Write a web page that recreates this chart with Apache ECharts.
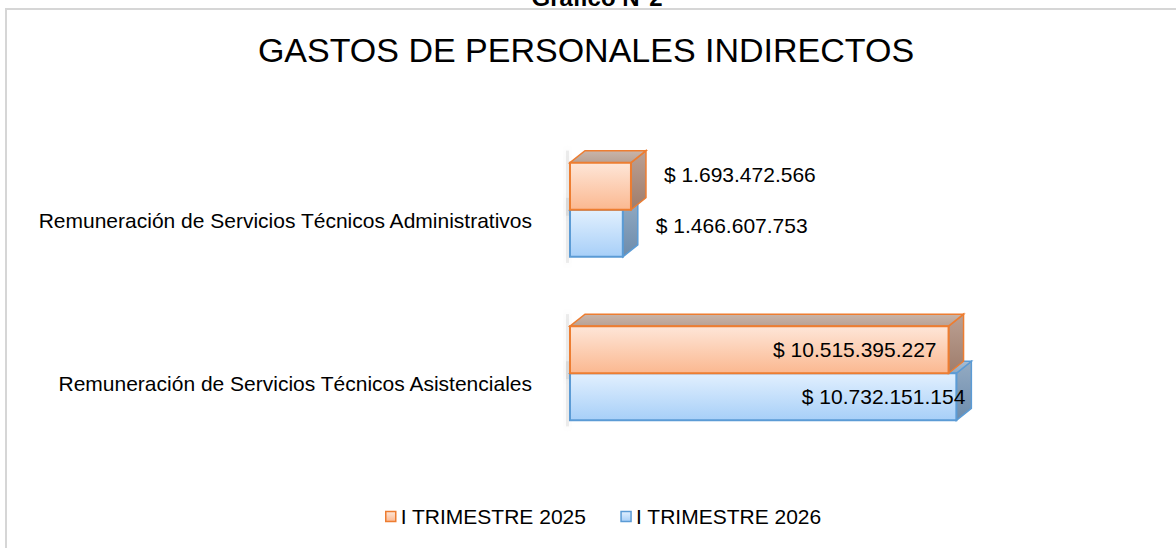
<!DOCTYPE html>
<html lang="es">
<head>
  <meta charset="UTF-8">
  <title>Gastos de personales indirectos</title>
  <script src="https://cdn.jsdelivr.net/npm/echarts@6/dist/echarts.min.js"></script>
  <style>
    html, body { margin: 0; background: #fff; }
    #grafico { width: 1176px; height: 548px; }
  </style>
</head>
<body>
  <div id="grafico"></div>
  <script>
    // datos
    const categorias = [
      'Remuneración de Servicios Técnicos Administrativos',
      'Remuneración de Servicios Técnicos Asistenciales'
    ]
    const nombresSeries = ['I TRIMESTRE 2025', 'I TRIMESTRE 2026']
    const valores2025 = [1693472566, 10515395227]
    const valores2026 = [1466607753, 10732151154]

    const fuente = "'Liberation Sans', Arial, sans-serif"
    const grad = (a, b) => new echarts.graphic.LinearGradient(0, 0, 0, 1, [
      {offset: 0, color: a}, {offset: 1, color: b}
    ])
    const pesos = v => '$ ' + String(v).replace(/\B(?=(\d{3})+(?!\d))/g, '.')

    const estilos = {
      naranja: {
        frente: grad('#fee6d8', '#fbb890'), borde: '#ed7d31',
        techo: grad('#c9b5aa', '#b8a194'), lado: grad('#bba093', '#9f7d6c'),
        arriba: true, dyFuera: -12, dxDentro: -12
      },
      azul: {
        frente: grad('#e2f0fe', '#a7cff8'), borde: '#5b9bd5',
        techo: grad('#a8bdd2', '#8ea8c2'), lado: grad('#94abc3', '#6d8cac'),
        arriba: false, dyFuera: -8, dxDentro: 9
      }
    }

    // barra con efecto 3d dibujada sobre las escalas del grid
    function barra3d(e) {
      return (params, api) => {
        const cat = api.value(1)
        const val = api.value(0)
        const p0 = api.coord([0, cat])
        const p1 = api.coord([val, cat])
        const banda = api.size([0, 1])[1]
        const h = banda * 0.288
        const x0 = p0[0], x1 = p1[0]
        const y0 = e.arriba ? p0[1] - h : p0[1]
        const dx = 15, dy = -12
        const yc = y0 + h / 2
        const fuera = x1 - x0 < 150
        return {
          type: 'group',
          children: [
            {
              type: 'rect',
              shape: {x: x0 - 4, y: y0 + dy, width: 3, height: h - dy + 6},
              style: {fill: 'rgba(160,160,160,0.2)', shadowBlur: 8, shadowColor: 'rgba(0,0,0,0.3)'}
            },
            {
              type: 'polygon',
              shape: {points: [[x1, y0], [x1 + dx, y0 + dy], [x1 + dx, y0 + h + dy], [x1, y0 + h]]},
              style: {fill: e.lado, stroke: e.borde, lineWidth: 1.5}
            },
            {
              type: 'polygon',
              shape: {points: [[x0, y0], [x0 + dx, y0 + dy], [x1 + dx, y0 + dy], [x1, y0]]},
              style: {fill: e.techo, stroke: e.borde, lineWidth: 1.5}
            },
            {
              type: 'rect',
              shape: {x: x0, y: y0, width: x1 - x0, height: h},
              style: {fill: e.frente, stroke: e.borde, lineWidth: 2}
            },
            {
              type: 'text',
              style: {
                text: pesos(val),
                x: fuera ? x1 + 33 : x1 + e.dxDentro,
                y: fuera ? yc + e.dyFuera : yc,
                align: fuera ? 'left' : 'right',
                verticalAlign: 'middle',
                fill: '#000',
                fontSize: 21,
                fontFamily: fuente
              }
            }
          ]
        }
      }
    }

    addEventListener('load', () => {
      let chart = echarts.init(document.querySelector('#grafico'), null, {renderer: 'svg'})
      let option = {
        backgroundColor: '#fff',
        animation: false,
        textStyle: {fontFamily: fuente},
        graphic: [
          {
            type: 'rect', silent: true,
            shape: {x: 6, y: 9, width: 1400, height: 800},
            style: {fill: 'none', stroke: '#d6d6d6', lineWidth: 2}
          },
          {
            type: 'text',
            style: {text: 'Gráfico N°2', x: 597, y: 9, align: 'center', verticalAlign: 'bottom',
              fontSize: 24, fontWeight: 'bold', fontFamily: fuente, fill: '#000'}
          },
          {
            type: 'text',
            style: {text: 'GASTOS DE PERSONALES INDIRECTOS', x: 586, y: 50, align: 'center',
              verticalAlign: 'middle', fontSize: 34, fontFamily: fuente, fill: '#000'}
          }
        ],
        legend: {
          left: 380, top: 501,
          itemWidth: 10, itemHeight: 10, itemGap: 34,
          textStyle: {fontSize: 21, color: '#000', fontFamily: fuente},
          data: [
            {name: nombresSeries[0], icon: 'rect', itemStyle: {color: estilos.naranja.frente, borderColor: '#ed7d31', borderWidth: 1.5}},
            {name: nombresSeries[1], icon: 'rect', itemStyle: {color: estilos.azul.frente, borderColor: '#5b9bd5', borderWidth: 1.5}}
          ]
        },
        grid: {left: 570, right: 174, top: 128, bottom: 93, containLabel: false},
        xAxis: {type: 'value', min: 0, max: 12000000000, show: false},
        yAxis: {
          type: 'category',
          inverse: true,
          data: categorias,
          axisLine: {show: false},
          axisTick: {show: false},
          splitLine: {show: false},
          axisLabel: {fontSize: 21, color: '#000', margin: 38, verticalAlign: 'top', lineHeight: 21, fontFamily: fuente}
        },
        series: [
          {
            name: nombresSeries[1], type: 'custom', z: 2,
            itemStyle: {color: '#a7cff8', borderColor: '#5b9bd5'},
            renderItem: barra3d(estilos.azul),
            encode: {x: 0, y: 1},
            data: valores2026.map((v, i) => [v, i])
          },
          {
            name: nombresSeries[0], type: 'custom', z: 3,
            itemStyle: {color: '#fbb890', borderColor: '#ed7d31'},
            renderItem: barra3d(estilos.naranja),
            encode: {x: 0, y: 1},
            data: valores2025.map((v, i) => [v, i])
          }
        ]
      }
      chart.setOption(option)
    })
  </script>
</body>
</html>
